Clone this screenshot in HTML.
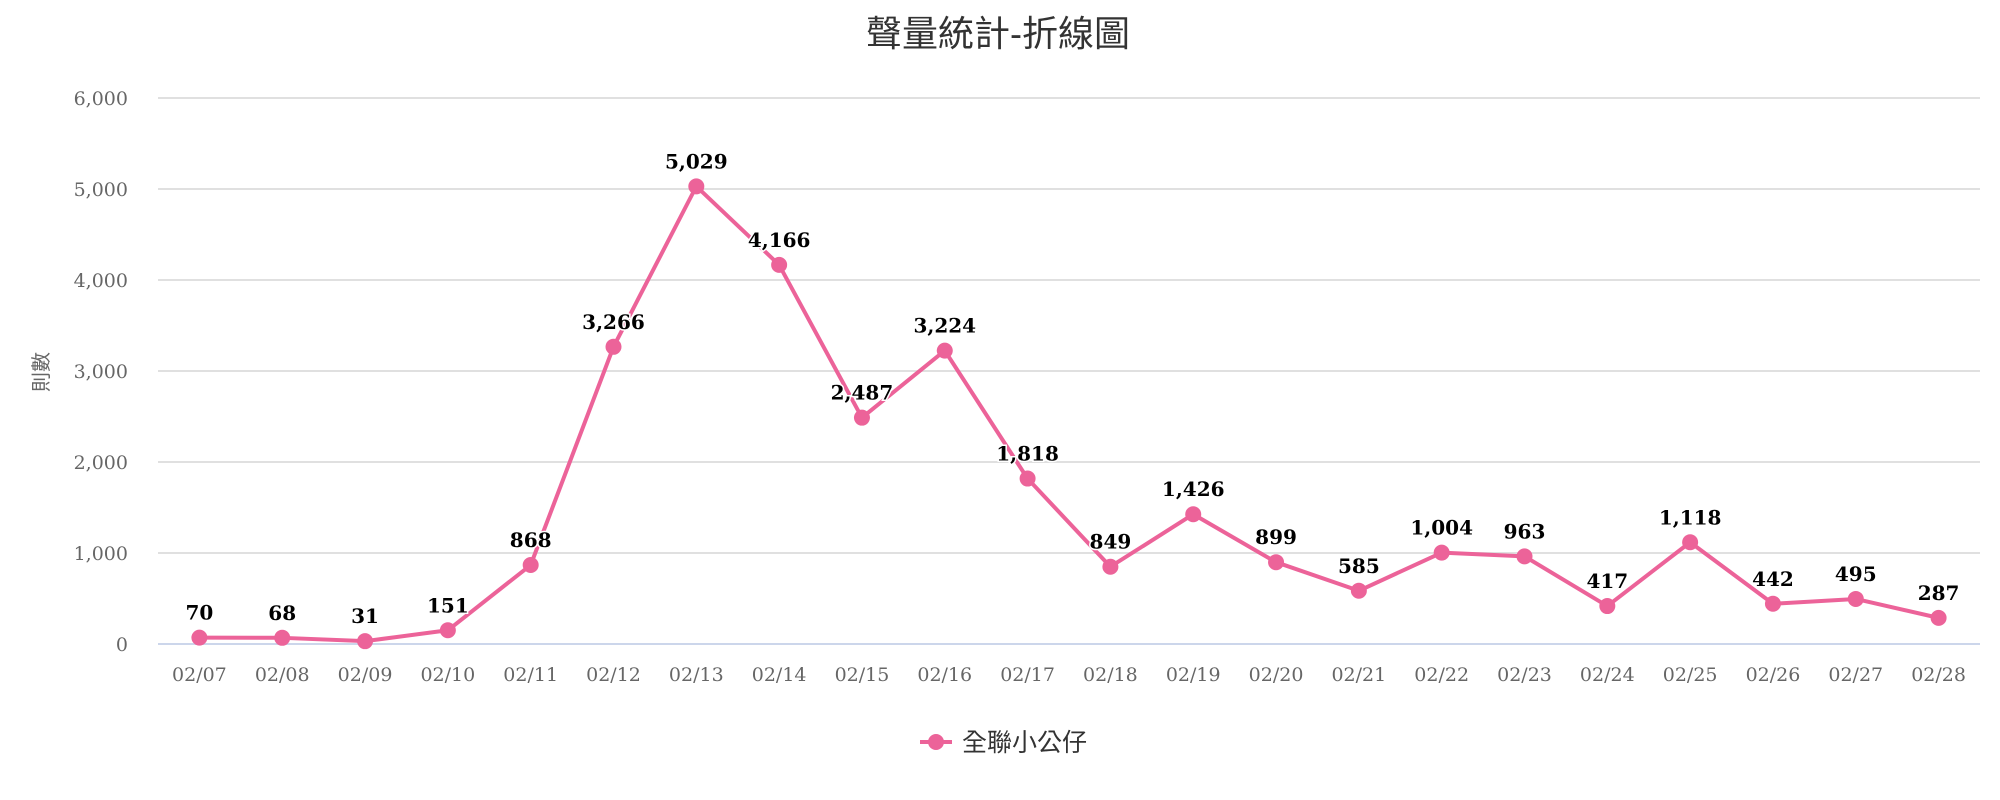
<!DOCTYPE html>
<html><head><meta charset="utf-8">
<style>
html,body{margin:0;padding:0;background:#fff;}
svg{display:block;}
</style></head>
<body>
<svg id="chart" width="2000" height="800" xmlns="http://www.w3.org/2000/svg">
<text x="998" y="46" text-anchor="middle" font-family="'Liberation Sans','Noto Sans CJK TC',sans-serif" font-size="36" fill="#333">聲量統計-折線圖</text>
<text transform="translate(48,372) rotate(-90)" text-anchor="middle" font-family="'Liberation Sans','Noto Sans CJK TC',sans-serif" font-size="20" fill="#666">則數</text>
<g id="grid"></g><g id="yticks"></g><g id="xticks"></g><g id="series"></g><g id="labels"></g>
<g>
<line x1="920" y1="742" x2="952" y2="742" stroke="#ec6399" stroke-width="4"/>
<circle cx="936" cy="742" r="8" fill="#ec6399"/>
<text x="962" y="751" font-family="'Liberation Sans','Noto Sans CJK TC',sans-serif" font-size="25" fill="#333">全聯小公仔</text>
</g>
</svg>
<script>
const categories=["02/07","02/08","02/09","02/10","02/11","02/12","02/13","02/14","02/15","02/16","02/17","02/18","02/19","02/20","02/21","02/22","02/23","02/24","02/25","02/26","02/27","02/28"];
const values=[70,68,31,151,868,3266,5029,4166,2487,3224,1818,849,1426,899,585,1004,963,417,1118,442,495,287];
const yTicks=[0,1000,2000,3000,4000,5000,6000];
const NS="http://www.w3.org/2000/svg";
const L=158,R=1980,T=98,B=644,YMAX=6000;
const band=(R-L)/categories.length;
function xs(i){return L+band*(i+0.5);}
function ys(v){return B-(v/YMAX)*(B-T);}
function mk(tag,attrs,parent){const e=document.createElementNS(NS,tag);for(const k in attrs)e.setAttribute(k,attrs[k]);document.getElementById(parent).appendChild(e);return e;}
const fmt=v=>v.toLocaleString('en-US');
yTicks.forEach(v=>{
 const g=mk('line',{x1:L,x2:R,y1:ys(v),y2:ys(v),stroke:v===0?'#ccd6eb':'#e0e0e0','stroke-width':2},'grid');
 
 
 const t=mk('text',{x:128,y:ys(v)+7,'text-anchor':'end','font-family':"'DejaVu Serif',serif",'font-size':19,fill:'#666'},'yticks');
 t.textContent=fmt(v);
 
 
});
categories.forEach((c,i)=>{
 const t=mk('text',{x:xs(i),y:681,'text-anchor':'middle','font-family':"'DejaVu Serif',serif",'font-size':19,fill:'#666'},'xticks');
 t.textContent=c;
 
 
});
const pts=values.map((v,i)=>xs(i)+','+ys(v)).join(' ');
const pl=mk('polyline',{points:pts,fill:'none',stroke:'#ec6399','stroke-width':4,'stroke-linejoin':'round'},'series');


values.forEach((v,i)=>{
 const c=mk('circle',{cx:xs(i),cy:ys(v),r:8,fill:'#ec6399'},'series');
 
 
 const t=mk('text',{x:xs(i),y:ys(v)-18,'text-anchor':'middle','font-family':"'DejaVu Serif',serif",'font-size':20,'font-weight':'bold',fill:'#000',stroke:'#fff','stroke-width':3,'paint-order':'stroke'},'labels');
 t.textContent=fmt(v);
 
 
});
</script>
</body></html>
